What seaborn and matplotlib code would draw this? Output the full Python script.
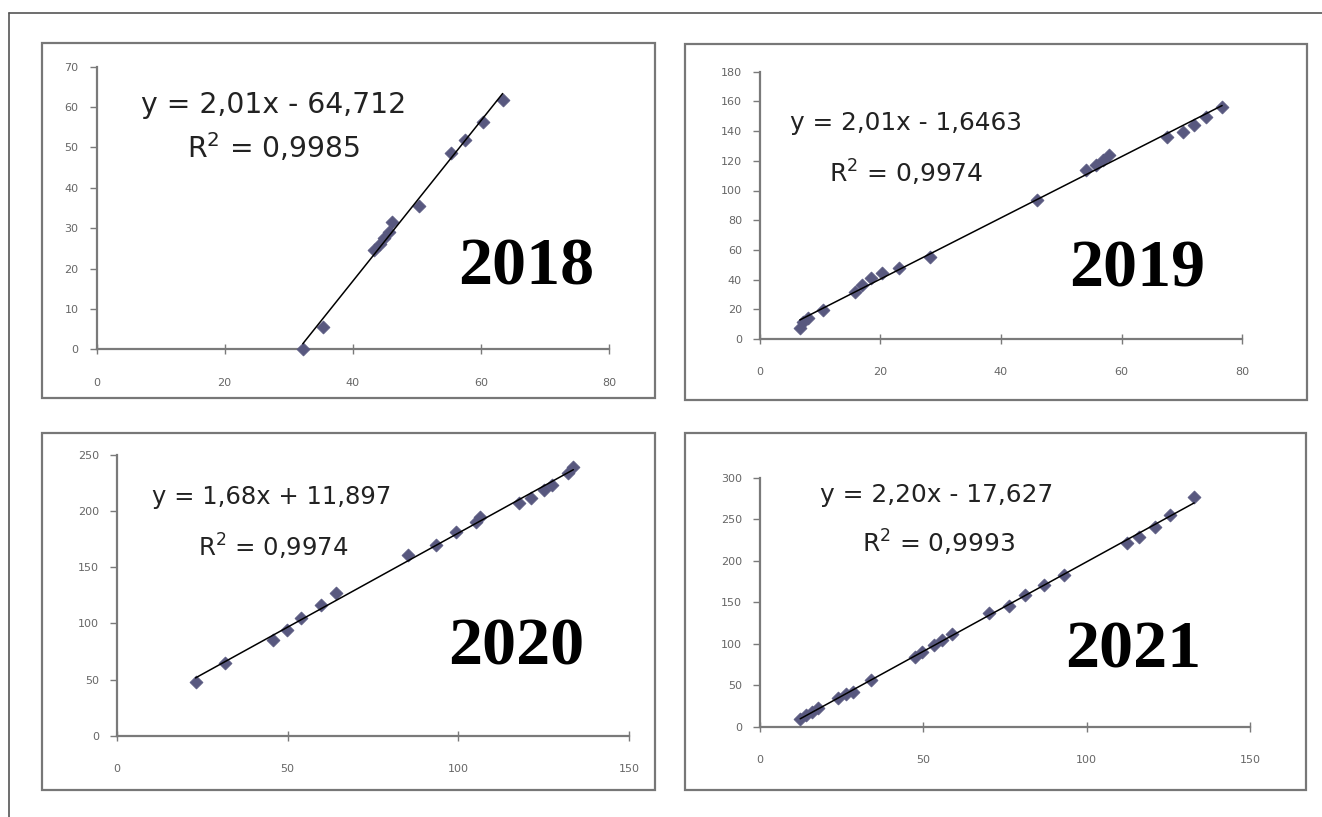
import numpy as np
import pandas as pd
import matplotlib
matplotlib.use("Agg")
import matplotlib.pyplot as plt
import seaborn as sns
from matplotlib.patches import Rectangle
from matplotlib.lines import Line2D

sns.set_theme(style="white")
plt.rcParams["font.family"] = ["DejaVu Sans"]

# ---------------- data ----------------
years = ["2018", "2019", "2020", "2021"]

x2018 = [32.2, 35.3, 43.3, 44.2, 44.9, 45.6, 46.1, 50.4, 55.4, 57.5, 60.3, 63.4]
y2018 = [0.0, 5.6, 24.5, 26.0, 27.5, 29.0, 31.6, 35.4, 48.6, 51.9, 56.4, 61.8]

x2019 = [6.6, 7.2, 7.9, 10.5, 15.7, 17.0, 18.4, 20.3, 23.0, 28.2, 45.9,
         54.1, 55.7, 57.0, 58.0, 67.5, 70.2, 72.1, 74.1, 76.7]
y2019 = [7.2, 11.7, 13.9, 19.5, 31.9, 36.4, 40.8, 44.2, 47.6, 55.4, 93.6,
         113.8, 117.1, 120.5, 123.9, 136.2, 139.6, 144.0, 149.7, 156.4]

x2020 = [23.0, 31.7, 45.7, 49.8, 53.8, 59.7, 64.3, 85.3, 93.5, 99.3, 105.1,
         106.3, 117.9, 121.4, 125.0, 127.3, 132.0, 133.7]
y2020 = [48.0, 64.4, 85.2, 94.1, 104.5, 116.4, 126.8, 160.9, 169.8, 181.7,
         190.6, 195.0, 207.0, 211.4, 218.8, 223.3, 233.7, 239.6]

x2021 = [12.3, 14.1, 15.9, 17.7, 23.8, 26.2, 28.6, 34.0, 47.3, 49.7, 53.3,
         55.7, 58.7, 70.2, 76.2, 81.0, 87.0, 93.1, 112.4, 116.0, 120.8, 125.6, 132.9]
y2021 = [9.2, 14.0, 18.0, 22.0, 34.0, 40.0, 42.0, 56.0, 84.0, 90.0, 98.0,
         104.0, 112.0, 137.0, 145.0, 159.0, 171.0, 183.0, 221.0, 229.0, 241.0, 255.0, 277.0]

equations = ["y = 2,01x - 64,712", "y = 2,01x - 1,6463",
             "y = 1,68x + 11,897", "y = 2,20x - 17,627"]
r2_texts = ["0,9985", "0,9974", "0,9974", "0,9993"]

x_max = [80, 80, 150, 150]
x_step = [20, 20, 50, 50]
y_max = [70, 180, 250, 300]
y_step = [10, 20, 50, 50]

series_x = [x2018, x2019, x2020, x2021]
series_y = [y2018, y2019, y2020, y2021]

# ---------------- layout ----------------
W, H = 1322, 817
fig = plt.figure(figsize=(W / 100, H / 100), dpi=100)
fig.patch.set_facecolor("white")


def fx(px):
    return px / W


def fy(py):
    return 1 - py / H


# axes pixel extents: (x0, x_end, y0_bottom, y_top)
ax_px = [(96.5, 609, 349.3, 66.7),
         (760, 1242, 339, 71.7),
         (117, 629, 735.7, 455),
         (760, 1250, 726.7, 477.7)]

# panel frames (left, top, right, bottom)
frames = [(42, 43, 655, 398), (685, 44, 1307, 400),
          (42, 433, 655, 790), (685, 433, 1306, 790)]

eq_pos = [(274, 105), (906, 123), (272, 497), (937, 495)]
r2_pos = [(274, 148), (906, 173), (273, 547), (939, 543)]
year_pos = [(526, 268), (1137, 270), (516, 648), (1133, 651)]
eq_size = [20.3, 17.8, 17.5, 17.9]
r2_size = [20.3, 18.0, 17.6, 17.9]

marker_color = "#58587f"
axis_color = "#7a7a7a"

for i in range(4):
    x0, x1, yb, yt = ax_px[i]
    ax = fig.add_axes([fx(x0), fy(yb), fx(x1) - fx(x0), fy(yt) - fy(yb)])
    df = pd.DataFrame({"x": series_x[i], "y": series_y[i]})
    sns.regplot(data=df, x="x", y="y", ax=ax, ci=None, truncate=True,
                marker="D",
                scatter_kws=dict(s=44, color=marker_color, edgecolor=marker_color,
                                 linewidths=0.5, clip_on=False, zorder=3, alpha=1),
                line_kws=dict(color="black", lw=1.1, zorder=4))
    ax.set_xlim(0, x_max[i])
    ax.set_ylim(0, y_max[i])
    ax.set_xticks(np.arange(0, x_max[i] + 1, x_step[i]))
    ax.set_yticks(np.arange(0, y_max[i] + 1, y_step[i]))
    ax.set_xlabel("")
    ax.set_ylabel("")
    for s in ["top", "right"]:
        ax.spines[s].set_visible(False)
    for s in ["left", "bottom"]:
        ax.spines[s].set_color(axis_color)
        ax.spines[s].set_linewidth(1.6)
    ax.tick_params(axis="x", direction="inout", length=7, width=1.0,
                   color=axis_color, labelsize=8, labelcolor="#666666", pad=17,
                   bottom=True)
    ax.tick_params(axis="y", direction="out", length=5, width=1.0,
                   color=axis_color, labelsize=8, labelcolor="#666666", pad=8,
                   left=True)
    ax.set_facecolor("none")

    fig.text(fx(eq_pos[i][0]), fy(eq_pos[i][1]), equations[i],
             fontsize=eq_size[i], color="#222222", ha="center", va="center")
    fig.text(fx(r2_pos[i][0]), fy(r2_pos[i][1]), "R$^2$ = " + r2_texts[i],
             fontsize=r2_size[i], color="#222222", ha="center", va="center")
    fig.text(fx(year_pos[i][0]), fy(year_pos[i][1]), years[i],
             fontsize=49, fontweight="bold", family=["Liberation Serif"],
             color="black", ha="center", va="center")

    l, t, r, b = frames[i]
    fig.patches.append(Rectangle((fx(l), fy(b)), fx(r) - fx(l), fy(t) - fy(b),
                                 transform=fig.transFigure, fill=False,
                                 edgecolor="#777777", lw=1.6, zorder=0))

# outer border (top and left)
fig.lines.append(Line2D([fx(9), fx(W)], [fy(13), fy(13)], transform=fig.transFigure,
                        color="#555555", lw=1.2))
fig.lines.append(Line2D([fx(9), fx(9)], [fy(13), fy(H)], transform=fig.transFigure,
                        color="#555555", lw=1.2))

fig.savefig("out.png", dpi=100, facecolor="white")
